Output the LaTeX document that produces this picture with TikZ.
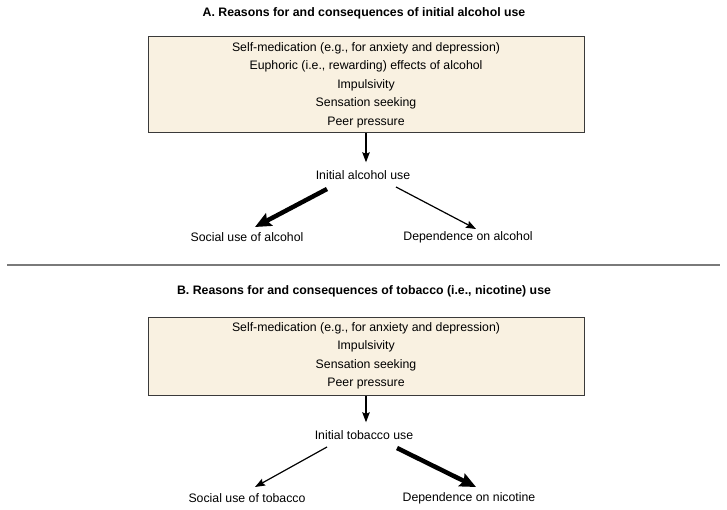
\documentclass[tikz,border=0pt]{standalone}
\usepackage{fontspec}
\setmainfont{Liberation Sans}
\usetikzlibrary{arrows.meta,positioning}

\definecolor{boxfill}{HTML}{F9F1E1}
\definecolor{boxline}{HTML}{3A3A3A}
\definecolor{sepline}{HTML}{7A7A7A}

\tikzset{
  reasonbox/.style={draw=boxline, line width=1pt, fill=boxfill, minimum width=436pt,
    align=center, inner sep=0pt, font=\fontsize{12.3}{18.5}\selectfont},
  usetext/.style={inner sep=2pt, font=\fontsize{12.3}{14}\selectfont},
  paneltitle/.style={inner sep=0pt, font=\fontsize{12.3}{14}\selectfont\bfseries},
  thinarrow/.style={-{Stealth[length=10pt,width=7.5pt,inset=1.5pt]}, line width=1.2pt},
  thickarrow/.style={-{Stealth[length=16pt,width=14pt,inset=2.5pt]}, line width=4.5pt}
}

\begin{document}
\begin{tikzpicture}[x=1pt, y=-1pt]
  \useasboundingbox (0,0) rectangle (727,510);

  % Pannello A: alcol
  \node[paneltitle] (titleA) at (364,13) {A. Reasons for and consequences of initial alcohol use};
  \node[reasonbox, minimum height=96pt] (boxA) at (366,85)
    {Self-medication (e.g., for anxiety and depression)\\
     Euphoric (i.e., rewarding) effects of alcohol\\
     Impulsivity\\
     Sensation seeking\\
     Peer pressure};
  \node[usetext] (initA) at (363,175) {Initial alcohol use};
  \node[usetext] (socA) at (247,237) {Social use of alcohol};
  \node[usetext] (depA) at (468,237) {Dependence on alcohol};

  \draw[thinarrow, shorten >=6pt] (boxA.south) -- (boxA.south |- initA.north);
  \draw[thickarrow] ([shift={(-36,14)}]initA.center) -- ([shift={(8,-10)}]socA.center);
  \draw[thinarrow] ([shift={(33,12)}]initA.center) -- ([shift={(8,-8)}]depA.center);

  % Linea di separazione
  \draw[sepline, line width=1.5pt] (7,265) -- (720,265);

  % Pannello B: tabacco
  \node[paneltitle] (titleB) at (364,291) {B. Reasons for and consequences of tobacco (i.e., nicotine) use};
  \node[reasonbox, minimum height=78pt] (boxB) at (366,356)
    {Self-medication (e.g., for anxiety and depression)\\
     Impulsivity\\
     Sensation seeking\\
     Peer pressure};
  \node[usetext] (initB) at (364,435) {Initial tobacco use};
  \node[usetext] (socB) at (247,498) {Social use of tobacco};
  \node[usetext] (depB) at (469,498) {Dependence on nicotine};

  \draw[thinarrow, shorten >=6pt] (boxB.south) -- (boxB.south |- initB.north);
  \draw[thinarrow] ([shift={(-37,12)}]initB.center) -- ([shift={(8,-11)}]socB.center);
  \draw[thickarrow] ([shift={(33,13)}]initB.center) -- ([shift={(7,-11)}]depB.center);
\end{tikzpicture}
\end{document}
